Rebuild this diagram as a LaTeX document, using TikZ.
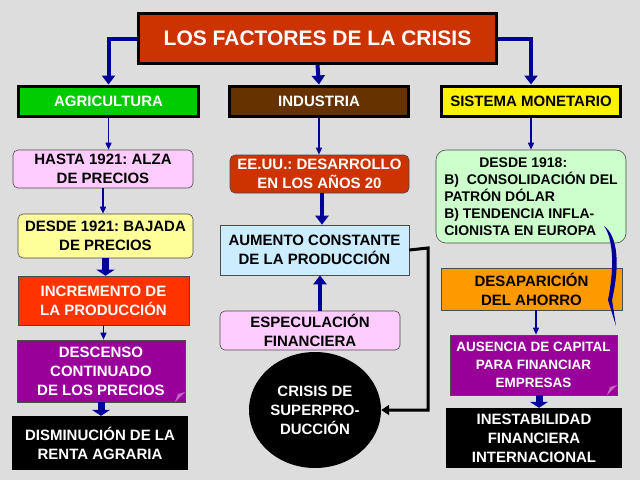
\documentclass[tikz,border=0pt]{standalone}
\usepackage{fontspec}
\setmainfont{Liberation Sans}
\frenchspacing
\usetikzlibrary{arrows.meta,shapes.geometric}
\definecolor{bg}{HTML}{DDDDDD}
\definecolor{ablue}{HTML}{000099}
\definecolor{rust}{HTML}{CC3300}
\definecolor{brownx}{HTML}{663300}
\definecolor{pinkx}{HTML}{FFCCFF}
\definecolor{lgreen}{HTML}{CCFFCC}
\definecolor{lyellow}{HTML}{FFFF99}
\definecolor{lblue}{HTML}{CCECFF}
\definecolor{redx}{HTML}{FF3300}
\definecolor{purp}{HTML}{990099}
\definecolor{orangex}{HTML}{FF9900}
\begin{document}
\begin{tikzpicture}[x=1pt,y=-1pt,
  every node/.style={font=\bfseries\fontsize{15}{19}\selectfont,align=center,inner sep=1pt},
  hdr/.style={draw=black,line width=3pt,minimum height=30pt},
  bx/.style={draw=black!70,line width=0.6pt},
  rbx/.style={bx,rounded corners=5pt},
  thin/.style={ablue,line width=1.5pt,-{Triangle[length=7pt,width=6pt]}},
  thick/.style={ablue,line width=4pt,-{Triangle[length=9pt,width=13pt]}},
  blk/.style={ablue,line width=7pt,-{Triangle[length=6pt,width=18pt]}}]
\fill[bg] (0,0) rectangle (640,480);
\useasboundingbox (0,0) rectangle (640,480);
\node[hdr,fill=rust,text=white,minimum width=358pt,minimum height=50pt,font=\bfseries\fontsize{21}{24}\selectfont] (t) at (317.5,38.5) {LOS FACTORES DE LA CRISIS};
\node[hdr,fill=green!80!black,text=white,minimum width=180pt] (ag) at (108.5,101) {AGRICULTURA};
\node[hdr,fill=brownx,text=white,minimum width=179pt] (in) at (319,101) {INDUSTRIA};
\node[hdr,fill=yellow,minimum width=179pt] (sm) at (531,101) {SISTEMA MONETARIO};
% agriculture column
\node[rbx,fill=pinkx,minimum width=180pt,minimum height=38pt] (a1) at (103,169) {HASTA 1921: ALZA\\DE PRECIOS};
\node[rbx,fill=lyellow,minimum width=175pt,minimum height=44pt] (a2) at (105.5,236) {DESDE 1921: BAJADA\\DE PRECIOS};
\node[bx,fill=redx,text=white,minimum width=171pt,minimum height=49pt] (a3) at (103.5,300.5) {INCREMENTO DE\\LA PRODUCCIÓN};
\node[bx,fill=purp,text=white,minimum width=168pt,minimum height=62pt] (a4) at (101,371) {DESCENSO\\CONTINUADO\\DE LOS PRECIOS};
\fill[purp!60!white] (175,402) -- (185,392) -- (178,394) -- cycle;
\node[fill=black,text=white,minimum width=176pt,minimum height=54pt] (a5) at (100,443) {DISMINUCIÓN DE LA\\RENTA AGRARIA};
% industry column
\node[rbx,fill=rust,text=white,minimum width=179pt,minimum height=38pt] (i1) at (319.5,174) {EE.UU.: DESARROLLO\\EN LOS AÑOS 20};
\node[bx,fill=lblue,minimum width=189pt,minimum height=50pt] (i2) at (314.5,250) {AUMENTO CONSTANTE\\DE LA PRODUCCIÓN};
\node[rbx,fill=pinkx,minimum width=180pt,minimum height=39pt] (i3) at (310,330.5) {ESPECULACIÓN\\FINANCIERA};
\node[ellipse,fill=black,text=white,minimum width=132pt,minimum height=116pt,inner sep=0pt] (i4) at (315,410) {CRISIS DE\\SUPERPRO-\\DUCCIÓN};
% monetary column
\node[rbx,fill=lgreen,minimum width=190pt,minimum height=93pt,rounded corners=10pt,align=left,font=\bfseries\fontsize{14}{17}\selectfont] (m1) at (531,196.5) {\hspace*{2.5em}DESDE 1918:\\B)\ \ CONSOLIDACIÓN DEL\\PATRÓN DÓLAR\\B) TENDENCIA INFLA-\\CIONISTA EN EUROPA};
\node[bx,fill=orangex,minimum width=181pt,minimum height=42pt] (m2) at (531.5,289) {DESAPARICIÓN\\DEL AHORRO};
\node[bx,fill=purp,text=white,minimum width=167pt,minimum height=60pt,font=\bfseries\fontsize{13.5}{18}\selectfont] (m3) at (533.5,365) {AUSENCIA DE CAPITAL\\PARA FINANCIAR\\EMPRESAS};
\fill[purp!60!white] (607,395) -- (617,385) -- (610,387) -- cycle;
\node[fill=black,text=white,minimum width=176pt,minimum height=60pt] (m4) at (534,438) {INESTABILIDAD\\FINANCIERA\\INTERNACIONAL};
% connectors
\draw[thick] (t.west) -| (ag.north);
\draw[thick] (t.south) -- (in.north);
\draw[thick] (t.east) -| (sm.north);
\draw[thin] (ag.south) -- (a1.north -| ag.south);
\draw[thin] (a1.south) -- (a2.north -| a1.south);
\draw[blk] (a2.south) -- (a3.north -| a2.south);
\draw[thin] (a3.south) -- (a4.north -| a3.south);
\draw[blk] (a4.south) -- (a5.north -| a4.south);
\draw[thin] (in.south) -- (i1.north -| in.south);
\draw[thick] (i1.south -| 322,0) -- (i2.north -| 322,0);
\draw[thick] (i3.north -| 320,0) -- (i2.south -| 320,0);
\coordinate (c1) at (428,248);
\draw[black,line width=3pt,-{Triangle[length=8pt,width=10pt]}] (i2.east) -- (c1) |- (i4.east);
\draw[thin] (sm.south) -- (m1.north -| sm.south);
\draw[thin] (m2.south -| 536,0) -- (m3.north -| 536,0);
\draw[blk] (m3.south -| 539,0) -- (m4.north -| 539,0);
\coordinate (w1) at (604,226);
\coordinate (w2) at (616,326);
\fill[ablue] (w1) .. controls (614,240) and (614,270) .. (608,300) -- (w2) -- (612,300) .. controls (620,265) and (618,236) .. cycle;
\end{tikzpicture}
\end{document}
